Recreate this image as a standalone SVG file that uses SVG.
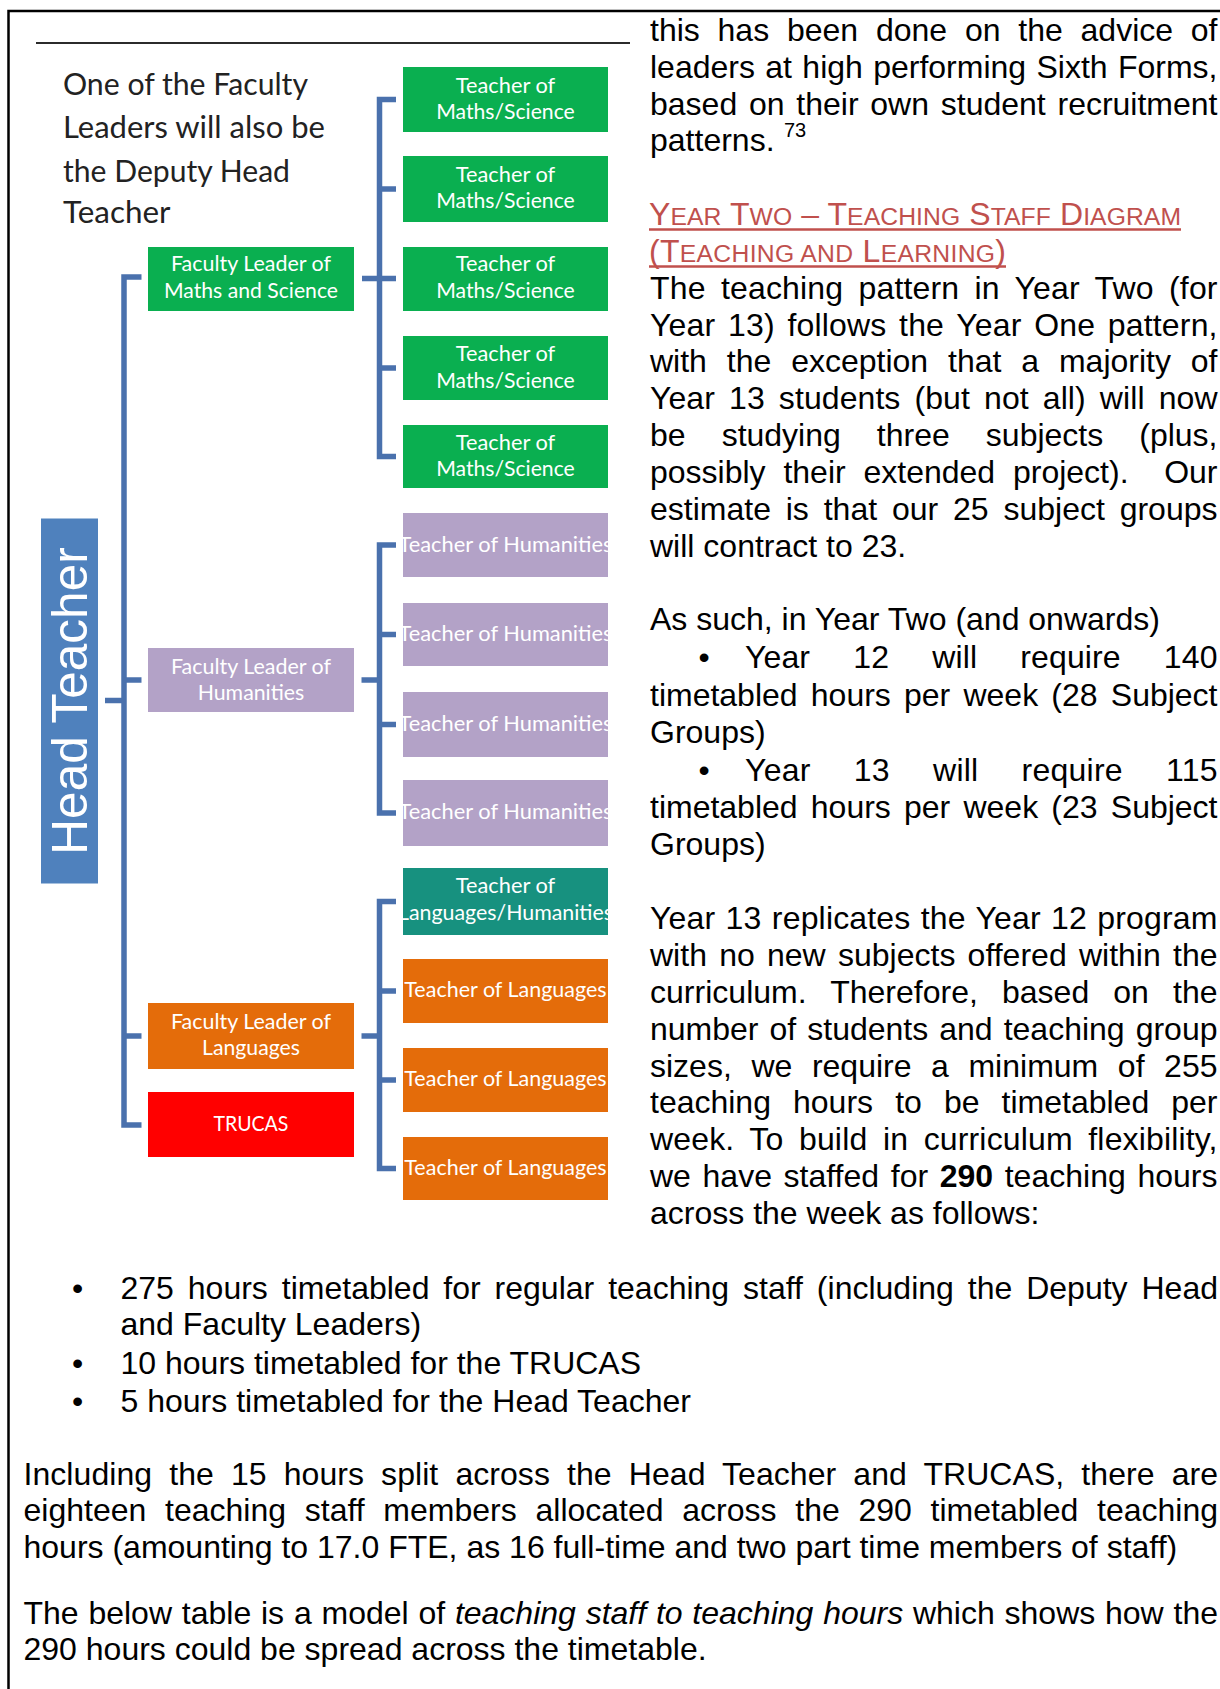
<svg xmlns="http://www.w3.org/2000/svg" width="1220" height="1689" viewBox="0 0 1220 1689">
  <defs>
    <style>
      .page { fill: #ffffff; }
      .rule { stroke: #000; stroke-width: 2.5; fill: none; }
      .sep { stroke: #2b2b2b; stroke-width: 2; }
      .conn { stroke: #4a71ad; stroke-width: 5.5; fill: none; stroke-linejoin: miter; }
      .green { fill: #0aaf50; }
      .purple { fill: #b3a2c7; }
      .teal { fill: #17917f; }
      .orange { fill: #e46c0a; }
      .red { fill: #ff0000; }
      .blue { fill: #4f81bd; }
      .lbl { font-family: Lato, "Open Sans", sans-serif; font-size: 21px; fill: #ffffff; text-anchor: middle; }
      .note { font-family: Lato, "Open Sans", sans-serif; font-size: 30px; fill: #222222; }
      .ht { font-family: "Liberation Sans", Arial, sans-serif; font-size: 49.5px; fill: #ffffff; text-anchor: middle; }
      .body { font-family: "Liberation Sans", Arial, sans-serif; font-size: 32px; fill: #000000; }
      .sup { font-family: "Liberation Sans", Arial, sans-serif; font-size: 20px; fill: #000000; }
      .hd { font-family: "Liberation Sans", Arial, sans-serif; font-size: 32px; fill: #c0504d; }
      .sc { font-size: 24.7px; }
      .ul { stroke: #c0504d; stroke-width: 2.5; }
      .b { font-weight: bold; }
      .i { font-style: italic; }
    </style>
    <clipPath id="colclip">
      <rect x="403" y="0" width="205" height="1689"/>
    </clipPath>
  </defs>

  <rect class="page" x="0" y="0" width="1220" height="1689"/>

  <!-- page frame -->
  <path class="rule" d="M8.5 1689 V11 H1220"/>
  <line class="sep" x1="36" y1="43" x2="630" y2="43"/>

  <!-- chart note -->
  <g id="note">
    <text class="note" x="63" y="95" textLength="245" lengthAdjust="spacingAndGlyphs">One of the Faculty</text>
    <text class="note" x="63" y="138" textLength="262" lengthAdjust="spacingAndGlyphs">Leaders will also be</text>
    <text class="note" x="63" y="181.5" textLength="227" lengthAdjust="spacingAndGlyphs">the Deputy Head</text>
    <text class="note" x="63" y="223" textLength="107.5" lengthAdjust="spacingAndGlyphs">Teacher</text>
  </g>

  <!-- connectors -->
  <g id="connectors">
    <path class="conn" d="M105 700.5 H124"/>
    <path class="conn" d="M141.5 277 H124 V1125 H141.5"/>
    <path class="conn" d="M124 680 H141.5"/>
    <path class="conn" d="M124 1036 H141.5"/>

    <path class="conn" d="M396 99.5 H379.5 V456.5 H396"/>
    <path class="conn" d="M379.5 189 H396"/>
    <path class="conn" d="M362 278.5 H396"/>
    <path class="conn" d="M379.5 368 H396"/>

    <path class="conn" d="M396 545 H379.5 V813 H396"/>
    <path class="conn" d="M379.5 634.5 H396"/>
    <path class="conn" d="M379.5 724.5 H396"/>
    <path class="conn" d="M361.5 680 H379.5"/>

    <path class="conn" d="M396 901.5 H379.5 V1168.5 H396"/>
    <path class="conn" d="M379.5 991 H396"/>
    <path class="conn" d="M379.5 1080 H396"/>
    <path class="conn" d="M361.5 1036 H379.5"/>
  </g>

  <!-- head of school -->
  <g id="head-teacher">
    <rect class="blue" x="41" y="518.5" width="57" height="365"/>
    <text class="ht" transform="translate(86.5 701) rotate(-90)">Head Teacher</text>
  </g>

  <!-- faculty leaders -->
  <g id="leader-maths">
    <rect class="green" x="148" y="247" width="206" height="64"/>
    <text class="lbl" x="251" y="271" textLength="160" lengthAdjust="spacingAndGlyphs">Faculty Leader of</text>
    <text class="lbl" x="251" y="297.5" textLength="174" lengthAdjust="spacingAndGlyphs">Maths and Science</text>
  </g>
  <g id="leader-humanities">
    <rect class="purple" x="148" y="648" width="206" height="64"/>
    <text class="lbl" x="251" y="673.5" textLength="160" lengthAdjust="spacingAndGlyphs">Faculty Leader of</text>
    <text class="lbl" x="251" y="700" textLength="106.6" lengthAdjust="spacingAndGlyphs">Humanities</text>
  </g>
  <g id="leader-languages">
    <rect class="orange" x="148" y="1003" width="206" height="66"/>
    <text class="lbl" x="251" y="1028.5" textLength="160" lengthAdjust="spacingAndGlyphs">Faculty Leader of</text>
    <text class="lbl" x="251" y="1055" textLength="98" lengthAdjust="spacingAndGlyphs">Languages</text>
  </g>
  <g id="trucas">
    <rect class="red" x="148" y="1092" width="206" height="65"/>
    <text class="lbl" x="251" y="1130.5" textLength="74.8" lengthAdjust="spacingAndGlyphs">TRUCAS</text>
  </g>

  <!-- teachers: maths and science -->
  <g id="teacher-ms-1">
    <rect class="green" x="403" y="67" width="205" height="65"/>
    <text class="lbl" x="505.5" y="92.5" textLength="99.3" lengthAdjust="spacingAndGlyphs">Teacher of</text>
    <text class="lbl" x="505.5" y="119" textLength="138.6" lengthAdjust="spacingAndGlyphs">Maths/Science</text>
  </g>
  <g id="teacher-ms-2">
    <rect class="green" x="403" y="156" width="205" height="66"/>
    <text class="lbl" x="505.5" y="181.5" textLength="99.3" lengthAdjust="spacingAndGlyphs">Teacher of</text>
    <text class="lbl" x="505.5" y="208" textLength="138.6" lengthAdjust="spacingAndGlyphs">Maths/Science</text>
  </g>
  <g id="teacher-ms-3">
    <rect class="green" x="403" y="247" width="205" height="64"/>
    <text class="lbl" x="505.5" y="271" textLength="99.3" lengthAdjust="spacingAndGlyphs">Teacher of</text>
    <text class="lbl" x="505.5" y="297.5" textLength="138.6" lengthAdjust="spacingAndGlyphs">Maths/Science</text>
  </g>
  <g id="teacher-ms-4">
    <rect class="green" x="403" y="336" width="205" height="64"/>
    <text class="lbl" x="505.5" y="361" textLength="99.3" lengthAdjust="spacingAndGlyphs">Teacher of</text>
    <text class="lbl" x="505.5" y="387.5" textLength="138.6" lengthAdjust="spacingAndGlyphs">Maths/Science</text>
  </g>
  <g id="teacher-ms-5">
    <rect class="green" x="403" y="425" width="205" height="63"/>
    <text class="lbl" x="505.5" y="449.5" textLength="99.3" lengthAdjust="spacingAndGlyphs">Teacher of</text>
    <text class="lbl" x="505.5" y="476" textLength="138.6" lengthAdjust="spacingAndGlyphs">Maths/Science</text>
  </g>

  <!-- teachers: humanities -->
  <g id="teacher-hum-1">
    <rect class="purple" x="403" y="513" width="205" height="64"/>
    <text class="lbl" x="505.5" y="551.5" textLength="214" lengthAdjust="spacingAndGlyphs" clip-path="url(#colclip)">Teacher of Humanities</text>
  </g>
  <g id="teacher-hum-2">
    <rect class="purple" x="403" y="603" width="205" height="63"/>
    <text class="lbl" x="505.5" y="640.5" textLength="214" lengthAdjust="spacingAndGlyphs" clip-path="url(#colclip)">Teacher of Humanities</text>
  </g>
  <g id="teacher-hum-3">
    <rect class="purple" x="403" y="692" width="205" height="65"/>
    <text class="lbl" x="505.5" y="730.5" textLength="214" lengthAdjust="spacingAndGlyphs" clip-path="url(#colclip)">Teacher of Humanities</text>
  </g>
  <g id="teacher-hum-4">
    <rect class="purple" x="403" y="780" width="205" height="66"/>
    <text class="lbl" x="505.5" y="819" textLength="214" lengthAdjust="spacingAndGlyphs" clip-path="url(#colclip)">Teacher of Humanities</text>
  </g>

  <!-- teachers: languages -->
  <g id="teacher-lang-hum">
    <rect class="teal" x="403" y="868" width="205" height="67"/>
    <text class="lbl" x="505.5" y="893" textLength="99.3" lengthAdjust="spacingAndGlyphs">Teacher of</text>
    <text class="lbl" x="505.5" y="919.5" textLength="215" lengthAdjust="spacingAndGlyphs" clip-path="url(#colclip)">Languages/Humanities</text>
  </g>
  <g id="teacher-lang-1">
    <rect class="orange" x="403" y="959" width="205" height="64"/>
    <text class="lbl" x="505.5" y="997" textLength="202.4" lengthAdjust="spacingAndGlyphs">Teacher of Languages</text>
  </g>
  <g id="teacher-lang-2">
    <rect class="orange" x="403" y="1048" width="205" height="64"/>
    <text class="lbl" x="505.5" y="1086" textLength="202.4" lengthAdjust="spacingAndGlyphs">Teacher of Languages</text>
  </g>
  <g id="teacher-lang-3">
    <rect class="orange" x="403" y="1137" width="205" height="63"/>
    <text class="lbl" x="505.5" y="1174.5" textLength="202.4" lengthAdjust="spacingAndGlyphs">Teacher of Languages</text>
  </g>

  <!-- right column text -->
  <g id="right-text">
    <text class="body" x="650" y="40.8" textLength="567.5" lengthAdjust="spacing" word-spacing="8.9">this has been done on the advice of</text>
    <text class="body" x="650" y="77.65" textLength="567.5" lengthAdjust="spacing" word-spacing="1.46">leaders at high performing Sixth Forms,</text>
    <text class="body" x="650" y="114.5" textLength="567.5" lengthAdjust="spacing" word-spacing="2.86">based on their own student recruitment</text>
    <text class="body" x="650" y="151.35">patterns.</text>
    <text class="sup" x="784" y="137">73</text>

    <text class="hd" x="649" y="225" textLength="532" lengthAdjust="spacing">Y<tspan class="sc">EAR</tspan> T<tspan class="sc">WO</tspan> – T<tspan class="sc">EACHING</tspan> S<tspan class="sc">TAFF</tspan> D<tspan class="sc">IAGRAM</tspan></text>
    <line class="ul" x1="649" y1="229.5" x2="1181" y2="229.5"/>
    <text class="hd" x="649" y="261.9" textLength="357" lengthAdjust="spacing">(T<tspan class="sc">EACHING AND</tspan> L<tspan class="sc">EARNING</tspan>)</text>
    <line class="ul" x1="649" y1="266.5" x2="1006" y2="266.5"/>

    <text class="body" x="650" y="298.75" textLength="567.5" lengthAdjust="spacing" word-spacing="6.25">The teaching pattern in Year Two (for</text>
    <text class="body" x="650" y="335.6" textLength="567.5" lengthAdjust="spacing" word-spacing="3.58">Year 13) follows the Year One pattern,</text>
    <text class="body" x="650" y="372.45" textLength="567.5" lengthAdjust="spacing" word-spacing="10.98">with the exception that a majority of</text>
    <text class="body" x="650" y="409.3" textLength="567.5" lengthAdjust="spacing" word-spacing="5.1">Year 13 students (but not all) will now</text>
    <text class="body" x="650" y="446.15" textLength="567.5" lengthAdjust="spacing" word-spacing="27.15">be studying three subjects (plus,</text>
    <text class="body" x="650" y="483" textLength="567.5" lengthAdjust="spacing" word-spacing="8.9" style="white-space:pre">possibly their extended project).  Our</text>
    <text class="body" x="650" y="519.85" textLength="567.5" lengthAdjust="spacing" word-spacing="5.95">estimate is that our 25 subject groups</text>
    <text class="body" x="650" y="556.7">will contract to 23.</text>

    <text class="body" x="650" y="630.4">As such, in Year Two (and onwards)</text>
    <text class="body" x="698.5" y="668.3">•</text>
    <text class="body" x="745" y="668.3" textLength="472.5" lengthAdjust="spacing" word-spacing="34.1">Year 12 will require 140</text>
    <text class="body" x="650" y="705.7" textLength="567.5" lengthAdjust="spacing" word-spacing="4.3">timetabled hours per week (28 Subject</text>
    <text class="body" x="650" y="743.1">Groups)</text>
    <text class="body" x="698.5" y="781">•</text>
    <text class="body" x="745" y="781" textLength="472.5" lengthAdjust="spacing" word-spacing="34.1">Year 13 will require 115</text>
    <text class="body" x="650" y="817.9" textLength="567.5" lengthAdjust="spacing" word-spacing="4.3">timetabled hours per week (23 Subject</text>
    <text class="body" x="650" y="855.2">Groups)</text>

    <text class="body" x="650" y="929.4" textLength="567.5" lengthAdjust="spacing" word-spacing="1.2">Year 13 replicates the Year 12 program</text>
    <text class="body" x="650" y="966.2" textLength="567.5" lengthAdjust="spacing" word-spacing="3.3">with no new subjects offered within the</text>
    <text class="body" x="650" y="1003" textLength="567.5" lengthAdjust="spacing" word-spacing="15.15">curriculum. Therefore, based on the</text>
    <text class="body" x="650" y="1039.8" textLength="567.5" lengthAdjust="spacing" word-spacing="2.14">number of students and teaching group</text>
    <text class="body" x="650" y="1076.6" textLength="567.5" lengthAdjust="spacing" word-spacing="10.7">sizes, we require a minimum of 255</text>
    <text class="body" x="650" y="1113.4" textLength="567.5" lengthAdjust="spacing" word-spacing="13.2">teaching hours to be timetabled per</text>
    <text class="body" x="650" y="1150.2" textLength="567.5" lengthAdjust="spacing" word-spacing="6.46">week. To build in curriculum flexibility,</text>
    <text class="body" x="650" y="1187" textLength="567.5" lengthAdjust="spacing" word-spacing="2.68">we have staffed for <tspan class="b">290</tspan> teaching hours</text>
    <text class="body" x="650" y="1223.5">across the week as follows:</text>
  </g>

  <!-- full-width text below the chart -->
  <g id="bottom-text">
    <text class="body" x="72" y="1298.5">•</text>
    <text class="body" x="120.5" y="1298.5" textLength="1097.5" lengthAdjust="spacing" word-spacing="5">275 hours timetabled for regular teaching staff (including the Deputy Head</text>
    <text class="body" x="120.5" y="1335.3">and Faculty Leaders)</text>
    <text class="body" x="72" y="1374">•</text>
    <text class="body" x="120.5" y="1374">10 hours timetabled for the TRUCAS</text>
    <text class="body" x="72" y="1411.5">•</text>
    <text class="body" x="120.5" y="1411.5">5 hours timetabled for the Head Teacher</text>

    <text class="body" x="23.5" y="1484.5" textLength="1194.5" lengthAdjust="spacing" word-spacing="8.1">Including the 15 hours split across the Head Teacher and TRUCAS, there are</text>
    <text class="body" x="23.5" y="1521.3" textLength="1194.5" lengthAdjust="spacing" word-spacing="9.8">eighteen teaching staff members allocated across the 290 timetabled teaching</text>
    <text class="body" x="23.5" y="1558.1">hours (amounting to 17.0 FTE, as 16 full-time and two part time members of staff)</text>

    <text class="body" x="23.5" y="1624" textLength="1194.5" lengthAdjust="spacing" word-spacing="0.9">The below table is a model of <tspan class="i">teaching staff to teaching hours</tspan> which shows how the</text>
    <text class="body" x="23.5" y="1659.5">290 hours could be spread across the timetable.</text>
  </g>
</svg>
